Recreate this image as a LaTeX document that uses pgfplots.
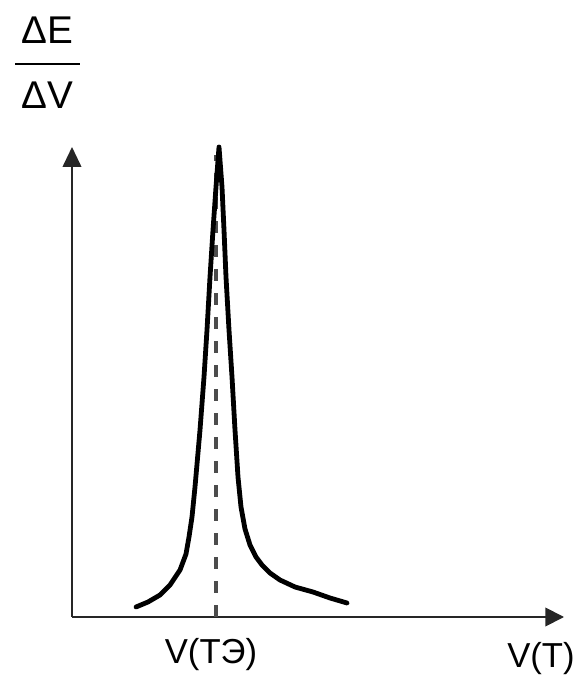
\documentclass[border=0pt]{standalone}
\usepackage{fontspec}
\setmainfont{Liberation Sans}
\usepackage{pgfplots}
\pgfplotsset{compat=1.18}
\usetikzlibrary{arrows.meta}

\begin{document}
\begin{tikzpicture}
\begin{axis}[
  width=434.25pt, height=511.5pt, scale only axis,
  xmin=0, xmax=579, ymin=-65, ymax=617,
  hide axis, clip=false,
]
\path (rel axis cs:0,0) rectangle (rel axis cs:1,1);

% axes
\draw[black!85, line width=1.4pt, -{Triangle[length=14pt,width=14pt]}]
  (axis cs:72,0) -- (axis cs:564,0);
\draw[black!85, line width=1.4pt, -{Triangle[length=15pt,width=14pt]}]
  (axis cs:72,0) -- (axis cs:72,470);

% dashed line at the peak
\addplot[black!70, line width=2.8pt, dash pattern=on 9pt off 9pt]
  coordinates {(216,0) (216,462)};

% peak curve
\addplot[black, line width=3.6pt, line join=round, line cap=round] coordinates {
 (136,10) (148,15) (160,22) (170,32) (180,47) (186,63) (189,80) (192,100) (195,130)
 (200,187) (204,240) (207,287) (210,340) (213,387) (216,430) (219,470)
 (222,430) (224,387) (226,340) (229,287) (232,240) (235,187) (238,140)
 (241,110) (245,88) (250,72) (256,60) (262,52) (270,44) (280,37) (295,30) (313,25)
 (330,19) (347,14)
};

% labels
\node[font=\fontsize{29}{32}\selectfont] at (axis cs:47,587) {ΔE};
\draw[black, line width=1.1pt] (axis cs:15,553) -- (axis cs:80,553);
\node[font=\fontsize{29}{32}\selectfont] at (axis cs:47,522) {ΔV};
\node[font=\fontsize{26}{30}\selectfont] at (axis cs:211,-38) {V(ТЭ)};
\node[font=\fontsize{26}{30}\selectfont] at (axis cs:541,-42) {V(T)};
\end{axis}
\end{tikzpicture}
\end{document}
